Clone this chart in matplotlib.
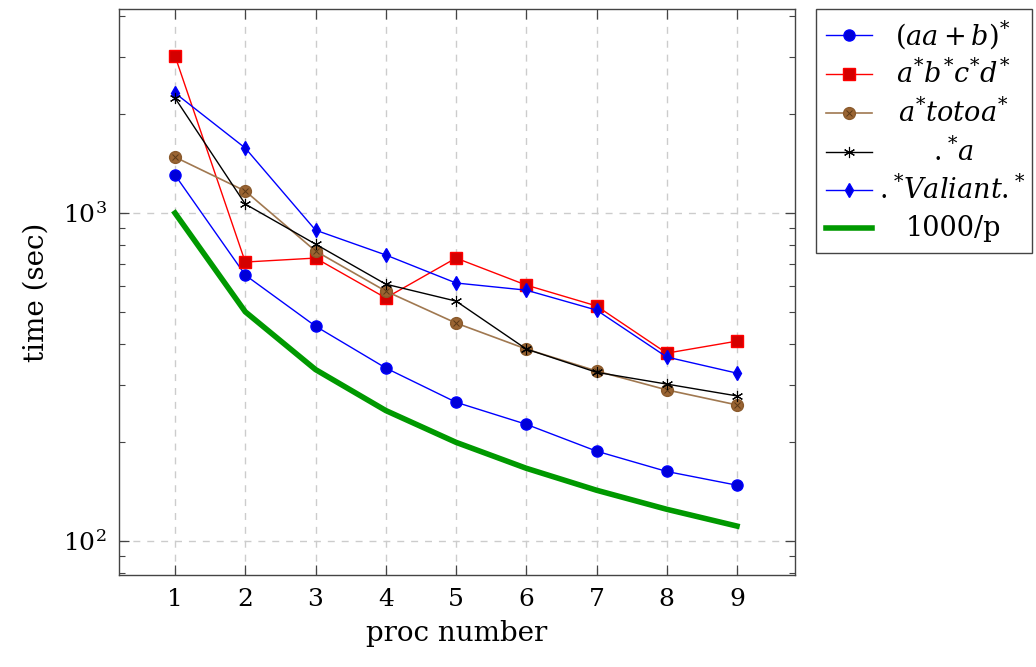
import matplotlib
matplotlib.use("Agg")
import matplotlib.pyplot as plt
from matplotlib.lines import Line2D
from matplotlib.patches import Rectangle
from matplotlib.ticker import LogLocator, NullFormatter

plt.rcParams['font.family'] = ['DejaVu Serif']
plt.rcParams['mathtext.fontset'] = 'dejavuserif'

procs = [1, 2, 3, 4, 5, 6, 7, 8, 9]
aab = [1306, 647, 452, 337, 265, 227, 188, 163, 148]
abcd = [3011, 709, 729, 551, 729, 603, 521, 374, 407]
totoa = [1481, 1167, 766, 578, 462, 385, 330, 289, 260]
dota = [2242, 1065, 804, 607, 539, 385, 327, 301, 277]
valiant = [2322, 1578, 887, 745, 612, 582, 506, 364, 325]
ideal = [1000, 500, 333.3, 250, 200, 166.7, 142.9, 125, 111.1]

labels = [r'$(aa+b)^{*}$', r'$a^{*}b^{*}c^{*}d^{*}$', r'$a^{*}totoa^{*}$',
          r'$.^{*}a$', r'$.^{*}Valiant.^{*}$', '1000/p']

styles = [
    dict(color='#0000ff', lw=1, marker='o', ms=8, mfc='#0000d8', mec='#0000ff'),
    dict(color='#ff0000', lw=1, marker='s', ms=8, mfc='#d40000', mec='#ff0000'),
    dict(color='#a07850', lw=1.2, marker='o', ms=8.5, mfc='#9a6432', mec='#8a5a2c'),
    dict(color='black', lw=1, marker=(6, 2, 0), ms=8, mew=0.8),
    dict(color='#0000ff', lw=1, marker='d', ms=7, mfc='#0000e0', mec='#0000ff'),
    dict(color='#009900', lw=4),
]
cross = dict(ls='none', marker='x', ms=5, mew=0.7, mec='#5a3818')

fig = plt.figure(figsize=(10.36, 6.67), dpi=100)
ax = fig.add_axes([0.1149, 0.1379, 0.6525, 0.8486])

series = [aab, abcd, totoa, dota, valiant, ideal]
zs = [3, 3, 3, 3.2, 3, 2.5]
for vals, st, z in zip(series, styles, zs):
    ax.plot(procs, vals, zorder=z, **st)
ax.plot(procs, totoa, zorder=3.1, **cross)

ax.set_yscale('log')
ax.set_xlim(0.203, 9.826)
ax.set_ylim(78.8, 4188)
ax.set_xticks(procs)
ax.set_xticklabels([str(p) for p in procs])
ax.yaxis.set_major_locator(LogLocator(base=10, numticks=10))
ax.yaxis.set_minor_locator(LogLocator(base=10, subs=range(2, 10), numticks=20))
ax.yaxis.set_minor_formatter(NullFormatter())

ax.grid(True, which='major', ls=(0, (5, 5)), color='#cccccc', lw=1)
ax.tick_params(which='both', direction='in', top=True, right=True,
               labelsize=18, color='#444444')
ax.tick_params(which='major', length=7, width=0.9, pad=9)
ax.tick_params(which='minor', length=4, width=0.8)
for s in ax.spines.values():
    s.set_color('#444444')
    s.set_linewidth(1)

ax.set_xlabel('proc number', fontsize=20, labelpad=7)
ax.set_ylabel('time (sec)', fontsize=20, labelpad=9)

# legend box (figure pixel coordinates converted to fractions)
W, H = 1036.0, 667.0
fig.patches.append(Rectangle((816 / W, 1 - 253 / H), (1032 - 816) / W, (253 - 9) / H,
                             transform=fig.transFigure, fill=True, facecolor='white',
                             edgecolor='#444444', lw=1, zorder=5))
row_y = [35, 74, 113, 152, 190, 228]
for lab, st, ry in zip(labels, styles, row_y):
    yf = 1 - ry / H
    ln = Line2D([826 / W, 872 / W], [yf, yf], transform=fig.transFigure,
                markevery=[], zorder=6, **st)
    fig.lines.append(ln)
    if 'marker' in st:
        mk = Line2D([849 / W], [yf], transform=fig.transFigure, zorder=7,
                    **{k: v for k, v in st.items() if k != 'lw'})
        mk.set_linestyle('none')
        fig.lines.append(mk)
    fig.text(953 / W, yf, lab, ha='center', va='center', fontsize=19.5, zorder=7)
fig.lines.append(Line2D([849 / W], [1 - 113 / H], transform=fig.transFigure,
                        zorder=8, **cross))

fig.savefig('out.png', dpi=100)
